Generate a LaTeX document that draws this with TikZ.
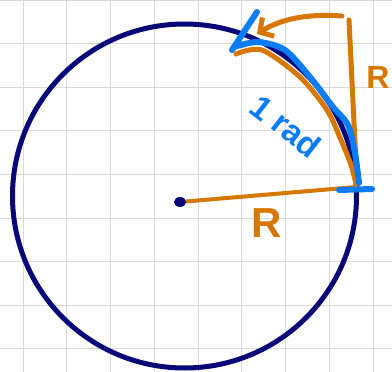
\documentclass[tikz,border=0pt]{standalone}
\usepackage{fontspec}
\setmainfont{Liberation Sans}
\usetikzlibrary{arrows.meta}
\definecolor{navy}{RGB}{10,8,120}
\definecolor{orangepen}{RGB}{214,120,0}
\definecolor{bluepen}{RGB}{12,124,245}
\definecolor{gridgray}{RGB}{218,218,218}

\begin{document}
\begin{tikzpicture}[x=1pt,y=-1pt,line cap=round,line join=round]
\tikzset{gridline/.style={gridgray,line width=1pt}, orangestroke/.style={orangepen,line width=5pt}, bluestroke/.style={bluepen,line width=6pt}}
\useasboundingbox[fill=white] (0,0) rectangle (392,372);
\foreach \i in {0,...,8} \draw[gridline] (23+43.75*\i,0)--++(0,372);
\foreach \j in {0,...,8} \draw[gridline] (0,43.6*\j)--++(392,0);
\coordinate (C) at (184.5,196); \coordinate (O) at (180,202); \coordinate (P) at (356,187);
\coordinate (T) at (349,20); \coordinate (B) at (357,184); \coordinate (S) at (342,16); \coordinate (H) at (257,34);
\draw[navy,line width=5pt] (C) circle[radius=172pt];
\draw[orangepen,line width=4pt] (O)--(P);
\fill[navy] (O) ellipse[x radius=6pt,y radius=5pt];
\draw[orangestroke] plot[smooth] coordinates {(236,54) (262,50) (300,77) (327,110) (341,140) (351,165) (356,184)};
\draw[orangestroke] (B)--(T); \draw[orangestroke,-{Straight Barb[length=10pt,width=22pt]}] (S) .. controls (300,13) and (276,22) .. (H);
\draw[bluestroke] plot[smooth] coordinates {(234,47) (258,42) (285,50) (310,77) (333,107) (348,125) (355,153) (359,183)};
\draw[bluestroke] (232,50)--(257,12); \draw[bluestroke] (339,190)--(372,189);
\node[orangepen,font=\fontsize{42}{42}\selectfont\bfseries] (rbelow) at (267,223) {R};
\node[orangepen,font=\fontsize{32}{32}\selectfont\bfseries,inner sep=0pt] (rright) at (378,77) {R};
\node[bluepen,rotate=-38,font=\fontsize{33}{33}\selectfont\bfseries] (radlabel) at (286,126) {1 rad};
\end{tikzpicture}
\end{document}
